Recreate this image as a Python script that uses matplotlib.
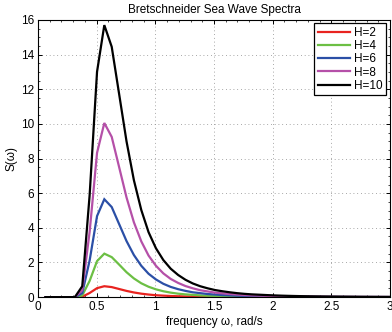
import matplotlib
matplotlib.use("Agg")
import matplotlib.pyplot as plt
from matplotlib.ticker import MultipleLocator, AutoMinorLocator

plt.rcParams['font.family'] = ['Liberation Sans', 'DejaVu Sans']

# frequency grid, rad/s
omega = [0.063, 0.126, 0.188, 0.251, 0.314, 0.377, 0.440, 0.503, 0.565, 0.628,
         0.691, 0.754, 0.817, 0.880, 0.942, 1.005, 1.068, 1.131, 1.194, 1.257,
         1.319, 1.382, 1.445, 1.508, 1.571, 1.634, 1.696, 1.759, 1.822, 1.885,
         1.948, 2.011, 2.073, 2.136, 2.199, 2.262, 2.325, 2.388, 2.450, 2.513,
         2.576, 2.639, 2.702, 2.765, 2.827, 2.890, 2.953, 3.016]

# spectral density S(omega) for each significant wave height
S_H2 = [0, 0, 0, 0, 0.0001, 0.025, 0.24, 0.52, 0.63, 0.58,
        0.47, 0.36, 0.27, 0.20, 0.15, 0.11, 0.086, 0.066, 0.051, 0.040,
        0.032, 0.025, 0.020, 0.016, 0.014, 0.011, 0.0092, 0.0077, 0.0065, 0.0055,
        0.0047, 0.0040, 0.0034, 0.0030, 0.0026, 0.0022, 0.0019, 0.0017, 0.0015, 0.0013,
        0.0012, 0.0010, 0.0009, 0.0008, 0.0007, 0.0007, 0.0006, 0.0005]
S_H4 = [0, 0, 0, 0, 0.0002, 0.10, 0.94, 2.08, 2.51, 2.31,
        1.88, 1.44, 1.08, 0.80, 0.60, 0.45, 0.34, 0.26, 0.20, 0.16,
        0.13, 0.10, 0.081, 0.066, 0.054, 0.045, 0.037, 0.031, 0.026, 0.022,
        0.019, 0.016, 0.014, 0.012, 0.010, 0.0089, 0.0077, 0.0068, 0.0060, 0.0053,
        0.0046, 0.0041, 0.0037, 0.0033, 0.0029, 0.0026, 0.0024, 0.0021]
S_H6 = [0, 0, 0, 0, 0.0005, 0.23, 2.12, 4.68, 5.65, 5.20,
        4.22, 3.24, 2.43, 1.81, 1.35, 1.02, 0.77, 0.59, 0.46, 0.36,
        0.28, 0.23, 0.18, 0.15, 0.12, 0.10, 0.083, 0.070, 0.058, 0.049,
        0.042, 0.036, 0.031, 0.027, 0.023, 0.020, 0.017, 0.015, 0.013, 0.012,
        0.010, 0.0093, 0.0082, 0.0073, 0.0066, 0.0059, 0.0053, 0.0048]
S_H8 = [0, 0, 0, 0, 0.0009, 0.40, 3.78, 8.33, 10.05, 9.25,
        7.51, 5.76, 4.32, 3.22, 2.40, 1.81, 1.37, 1.05, 0.82, 0.64,
        0.51, 0.40, 0.33, 0.26, 0.22, 0.18, 0.15, 0.12, 0.10, 0.088,
        0.075, 0.064, 0.055, 0.047, 0.041, 0.035, 0.031, 0.027, 0.024, 0.021,
        0.019, 0.016, 0.015, 0.013, 0.012, 0.010, 0.0094, 0.0085]
S_H10 = [0, 0, 0, 0, 0.0014, 0.63, 5.90, 13.01, 15.70, 14.45,
         11.73, 9.00, 6.75, 5.03, 3.75, 2.82, 2.14, 1.64, 1.28, 1.00,
         0.79, 0.63, 0.51, 0.41, 0.34, 0.28, 0.23, 0.19, 0.16, 0.14,
         0.12, 0.10, 0.086, 0.074, 0.064, 0.055, 0.048, 0.042, 0.037, 0.033,
         0.029, 0.026, 0.023, 0.020, 0.018, 0.016, 0.015, 0.013]

labels = ['H=2', 'H=4', 'H=6', 'H=8', 'H=10']
colors = ['#e8231f', '#6cbf44', '#2b4fa6', '#b550a8', '#000000']
series = [S_H2, S_H4, S_H6, S_H8, S_H10]

fig = plt.figure(figsize=(3.92, 3.32), dpi=100)
ax = fig.add_axes([0.097, 0.105, 0.898, 0.835])

for s, c, lab in zip(series, colors, labels):
    ax.plot(omega, s, color=c, lw=1.6, label=lab, solid_joinstyle='miter')

ax.set_xlim(0, 3)
ax.set_ylim(0, 16)
ax.yaxis.set_major_locator(MultipleLocator(2))
ax.set_xticks([0, 0.5, 1, 1.5, 2, 2.5, 3])
ax.set_xticklabels(['0', '0.5', '1', '1.5', '2', '2.5', '3'])
ax.xaxis.set_minor_locator(AutoMinorLocator(5))
ax.yaxis.set_minor_locator(AutoMinorLocator(4))
ax.tick_params(which='both', direction='in', top=True, right=True,
               labelsize=8.5, colors='black')
ax.tick_params(which='major', length=3, width=0.7, pad=3)
ax.tick_params(which='minor', length=1.6, width=0.5)
ax.grid(True, which='major', linestyle=(0, (1, 3.5)), color='#8a8a8a', lw=0.6)
for sp in ax.spines.values():
    sp.set_linewidth(0.8)
    sp.set_color('black')

ax.set_title('Bretschneider Sea Wave Spectra', fontsize=8.5, pad=5)
ax.set_xlabel('frequency \u03c9, rad/s', fontsize=8.5, labelpad=2)
ax.set_ylabel('S(\u03c9)', fontsize=8.5)
ax.yaxis.set_label_coords(-0.057, 0.5)

leg = ax.legend(loc='upper right', fontsize=8.5, fancybox=False,
                edgecolor='black', framealpha=1, borderaxespad=0.3,
                handlelength=2.7, handletextpad=0.4, labelspacing=0.1,
                borderpad=0.3)
leg.get_frame().set_linewidth(0.9)

fig.savefig('out.png', dpi=100)
